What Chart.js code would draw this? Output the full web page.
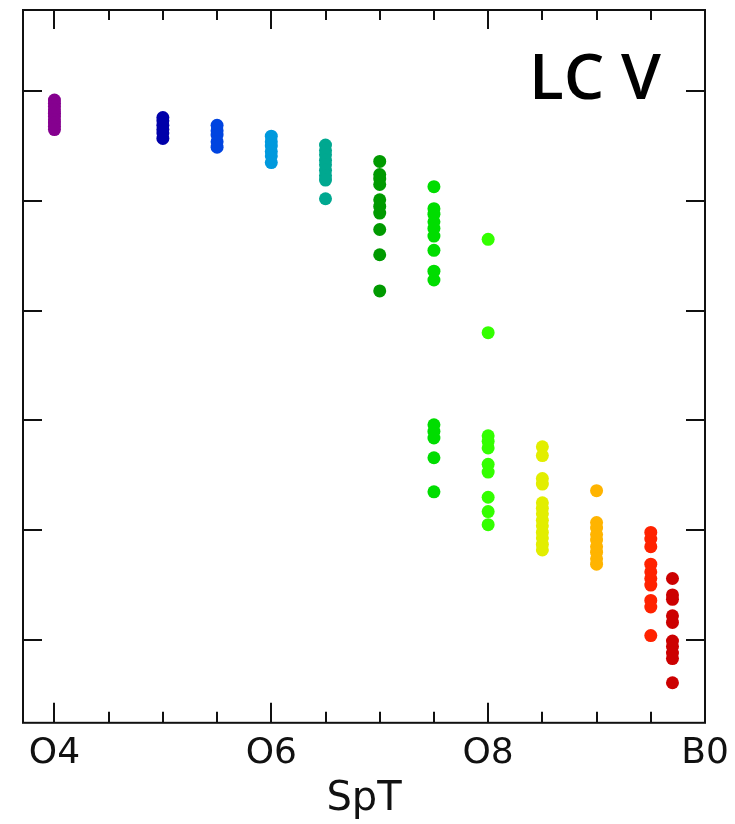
<!DOCTYPE html>
<html>
<head>
<meta charset="utf-8">
<script src="https://cdn.jsdelivr.net/npm/chart.js@4.4.1/dist/chart.umd.min.js"></script>
<style>
  html, body { margin: 0; padding: 0; background: #fff; }
  #wrap { width: 735px; height: 824px; }
</style>
</head>
<body>
<div id="wrap"><canvas id="report"></canvas></div>
<script>
// spectral subtypes (O4 = 4 ... B0 = 10) and the colour of each group
const spTypes = ['O4', 'O5', 'O5.5', 'O6', 'O6.5', 'O7', 'O7.5', 'O8', 'O8.5', 'O9', 'O9.5', 'O9.7'];
const spValues = [4, 5, 5.5, 6, 6.5, 7, 7.5, 8, 8.5, 9, 9.5, 9.7];
const spColors = ['#85008f', '#0000aa', '#0044e0', '#0099dd', '#00a890', '#009a00',
                  '#00dd00', '#33ff00', '#e2ee00', '#ffb400', '#ff2200', '#cc0000'];

// y values (the y axis has no labels)
const yO4   = [4.92, 4.89, 4.86, 4.83, 4.80, 4.77, 4.74, 4.71, 4.68, 4.65];
const yO5   = [4.76, 4.73, 4.69, 4.65, 4.62, 4.57];
const yO55  = [4.69, 4.64, 4.60, 4.54, 4.49];
const yO6   = [4.59, 4.54, 4.50, 4.45, 4.41, 4.35];
const yO65  = [4.51, 4.46, 4.42, 4.37, 4.33, 4.28, 4.23, 4.19, 4.02];
const yO7   = [4.36, 4.24, 4.20, 4.15, 4.01, 3.95, 3.89, 3.74, 3.51, 3.18];
const yO75  = [4.13, 3.93, 3.88, 3.81, 3.75, 3.68, 3.55, 3.36, 3.28,
               1.96, 1.90, 1.84, 1.66, 1.35];
const yO8   = [3.65, 2.80, 1.86, 1.81, 1.75, 1.60, 1.53, 1.30, 1.17, 1.05];
const yO85  = [1.76, 1.68, 1.47, 1.42, 1.25, 1.20, 1.15, 1.09, 1.04, 0.98, 0.93, 0.87, 0.82];
const yO9   = [1.36, 1.07, 1.02, 0.96, 0.91, 0.85, 0.80, 0.74, 0.69];
const yO95  = [0.98, 0.92, 0.85, 0.69, 0.62, 0.56, 0.50, 0.36, 0.30, 0.04];
const yO97  = [0.56, 0.41, 0.37, 0.22, 0.16, -0.01, -0.06, -0.12, -0.17, -0.39];
const yByType = [yO4, yO5, yO55, yO6, yO65, yO7, yO75, yO8, yO85, yO9, yO95, yO97];

// axis ticks
const xTickValues = [4, 6, 8, 10];
const xTickLabels = ['O4', 'O6', 'O8', 'B0'];
const xMinorTicks = [4.5, 5, 5.5, 6.5, 7, 7.5, 8.5, 9, 9.5];
const yTickValues = [0, 1, 2, 3, 4, 5];

const tickFont = { family: '"DejaVu Sans"', size: 36 };
const titleFont = { family: '"DejaVu Sans"', size: 40 };

// frame, inward ticks and the "LC V" tag
const frameTicks = {
    id: 'frameTicks',
    afterDatasetsDraw(chart) {
        const { ctx, chartArea: a, scales: { x, y } } = chart;
        ctx.save();
        ctx.strokeStyle = '#111';
        ctx.lineWidth = 2;
        ctx.beginPath();
        xTickValues.forEach(v => {
            const px = Math.round(x.getPixelForValue(v));
            ctx.moveTo(px, a.bottom); ctx.lineTo(px, a.bottom - 20);
            ctx.moveTo(px, a.top); ctx.lineTo(px, a.top + 19);
        });
        xMinorTicks.forEach(v => {
            const px = Math.round(x.getPixelForValue(v));
            ctx.moveTo(px, a.bottom); ctx.lineTo(px, a.bottom - 11);
            ctx.moveTo(px, a.top); ctx.lineTo(px, a.top + 10);
        });
        yTickValues.forEach(v => {
            const py = Math.round(y.getPixelForValue(v));
            ctx.moveTo(a.left, py); ctx.lineTo(a.left + 19, py);
            ctx.moveTo(a.right, py); ctx.lineTo(a.right - 19, py);
        });
        ctx.stroke();
        ctx.strokeRect(a.left, a.top, a.right - a.left, a.bottom - a.top);

        ctx.fillStyle = '#000';
        ctx.font = '600 64px "Open Sans"';
        ctx.textAlign = 'left';
        ctx.textBaseline = 'alphabetic';
        ctx.fillText('LC V', a.right - 176, a.top + 89);
        ctx.restore();
    }
};

const ctx = document.getElementById('report').getContext('2d');
let myChart = new Chart(ctx, {
    type: 'scatter',
    data: {
        datasets: spTypes.map((t, i) => ({
            label: t,
            data: yByType[i].map(v => ({ x: spValues[i], y: v })),
            pointRadius: 6.5,
            pointHoverRadius: 6.5,
            borderWidth: 0,
            backgroundColor: spColors[i],
            pointBackgroundColor: spColors[i]
        }))
    },
    options: {
        responsive: true,
        maintainAspectRatio: false,
        animation: false,
        layout: { padding: { left: 23, right: 30, top: 10, bottom: 0 } },
        plugins: {
            legend: { display: false },
            tooltip: { enabled: false }
        },
        scales: {
            x: {
                type: 'linear',
                min: 3.71,
                max: 10,
                afterBuildTicks: scale => {
                    scale.ticks = xTickValues.map(v => ({ value: v }));
                },
                grid: { display: false },
                border: { display: false },
                ticks: {
                    font: tickFont,
                    color: '#111',
                    padding: 1,
                    maxRotation: 0,
                    autoSkip: false,
                    callback: v => xTickLabels[xTickValues.indexOf(v)]
                },
                title: {
                    display: true,
                    text: 'SpT',
                    font: titleFont,
                    color: '#111',
                    padding: { top: 0, bottom: 0 }
                }
            },
            y: {
                type: 'linear',
                min: -0.755,
                max: 5.74,
                display: false
            }
        }
    },
    plugins: [frameTicks]
});
</script>
</body>
</html>
